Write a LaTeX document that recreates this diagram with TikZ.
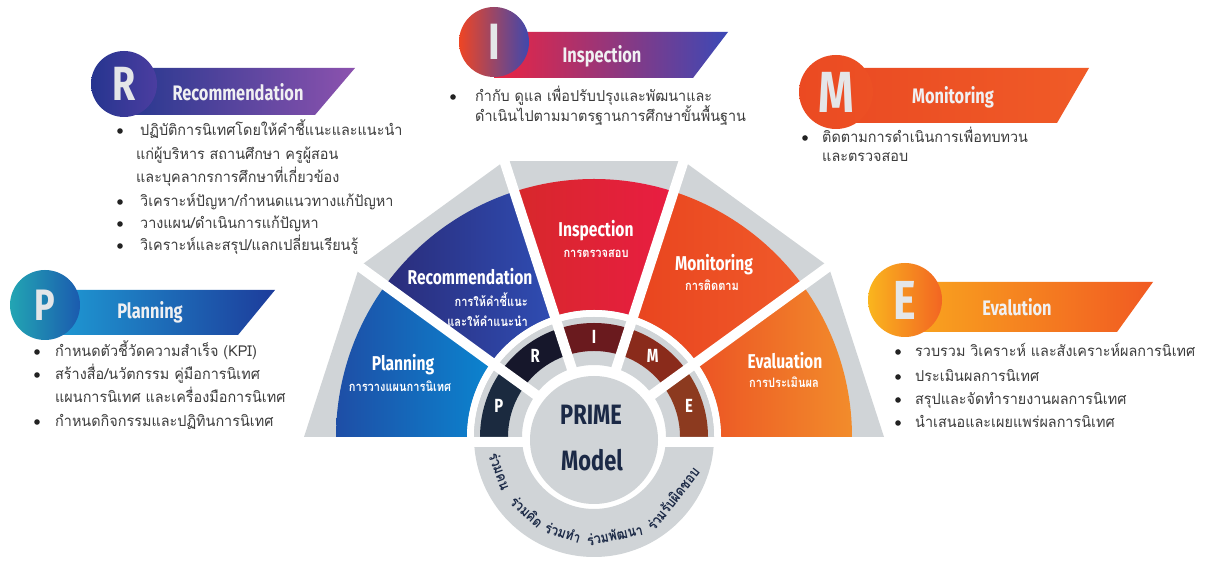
\documentclass[tikz,border=0pt]{standalone}
\usepackage{fontspec}
\setmainfont{Fira Sans}
\newfontfamily\cond[FakeStretch=0.78]{Fira Sans}
\newfontfamily\thai[Script=Thai,FakeStretch=0.96]{Loma}
\newfontfamily\thaic[Script=Thai,FakeStretch=0.85]{Loma}
\usetikzlibrary{calc}
\definecolor{wgrey}{HTML}{D0D4D7}
\definecolor{planL}{HTML}{1E4EA6}\definecolor{planR}{HTML}{0B84CF}
\definecolor{recL}{HTML}{2A2C7A}\definecolor{recR}{HTML}{2F4DB3}
\definecolor{insL}{HTML}{D7282B}\definecolor{insR}{HTML}{E91D42}
\definecolor{monL}{HTML}{E9451F}\definecolor{monR}{HTML}{F05A2A}
\definecolor{evaL}{HTML}{EC5424}\definecolor{evaR}{HTML}{F28C2B}
\definecolor{segP}{HTML}{1B2A3F}\definecolor{segR}{HTML}{16172B}
\definecolor{segI}{HTML}{6A1A1E}\definecolor{segM}{HTML}{8A2B1B}
\definecolor{segE}{HTML}{8C3A1F}
\definecolor{navy}{HTML}{1B2946}
\definecolor{txt}{HTML}{3C3C3C}
\definecolor{bulletc}{HTML}{222222}
\definecolor{letgrey}{HTML}{E4E6E8}
\definecolor{hdrwhite}{HTML}{F0F0F2}
\definecolor{rcL}{HTML}{26358F}\definecolor{rcR}{HTML}{4B3DA0}
\definecolor{rbL}{HTML}{26388F}\definecolor{rbR}{HTML}{8C52AE}
\definecolor{icL}{HTML}{EE4524}\definecolor{icR}{HTML}{3F48AE}
\definecolor{ibL}{HTML}{EC2442}\definecolor{ibM}{HTML}{B2309A}\definecolor{ibR}{HTML}{3B49B6}
\definecolor{mcL}{HTML}{EB4A22}\definecolor{mcR}{HTML}{EC5024}
\definecolor{mbL}{HTML}{EA4B23}\definecolor{mbR}{HTML}{F05B27}
\definecolor{pcL}{HTML}{22A5B3}\definecolor{pcR}{HTML}{1B5BAF}
\definecolor{pbL}{HTML}{1E9ED6}\definecolor{pbR}{HTML}{1D3C9B}
\definecolor{ecL}{HTML}{FAB51E}\definecolor{ecR}{HTML}{F26522}
\definecolor{ebL}{HTML}{F9A71E}\definecolor{ebR}{HTML}{F15A22}
\newcommand\bigfont[1]{\cond\bfseries\fontsize{#1}{#1}\selectfont}
\begin{document}
\begin{tikzpicture}[x=1pt,y=1pt,
  hdrtext/.style={text=hdrwhite, inner sep=0pt, font=\cond\bfseries\fontsize{21}{21}\selectfont},
  bigletter/.style={circle, inner sep=0pt, text=letgrey},
  seclabel/.style={text=white, inner sep=0pt, font=\cond\bfseries\fontsize{20}{20}\selectfont},
  secthai/.style={text=white, inner sep=0pt, font=\thaic\bfseries\fontsize{13}{13}\selectfont},
  segletter/.style={text=white, inner sep=0pt, font=\cond\bfseries\fontsize{19}{19}\selectfont},
  bodythai/.style={anchor=base west, inner sep=0pt, text=txt, font=\thai\fontsize{15}{15}\selectfont},
  arcthai/.style={text=navy, inner sep=0pt, font=\thaic\bfseries\fontsize{14.5}{14.5}\selectfont},
  bulletdot/.style={fill=bulletc},
  centertext/.style={text=navy, inner sep=0pt, font=\cond\bfseries\fontsize{28}{28}\selectfont},
]
\useasboundingbox (0,0) rectangle (1214,561);
\fill[white] (0,0) rectangle (1214,561);
\coordinate (C) at (594,124);
% outer grey polygons
\foreach \a in {0,36,72,108,144}{
  \fill[wgrey] ([shift={(\a:120)}]C) -- ([shift={(\a:290)}]C) -- ([shift={(\a+36:290)}]C) -- ([shift={(\a+36:120)}]C) -- cycle;
}
% coloured sectors
\foreach \a/\lc/\rc in {144/planL/planR,108/recL/recR,72/insL/insR,36/monL/monR,0/evaL/evaR}{
  \shade[left color=\lc, right color=\rc] ([shift={(\a:127)}]C) -- ([shift={(\a:258)}]C) arc[start angle=\a, delta angle=36, radius=258] -- ([shift={(\a+36:127)}]C) arc[start angle=\a+36, delta angle=-36, radius=127] -- cycle;
}
% white gap between ring and sectors
\fill[white] ([shift={(0:127)}]C) arc[start angle=0, end angle=180, radius=127] -- ([shift={(180:120)}]C) arc[start angle=180, end angle=0, radius=120] -- cycle;
% upper grey ring
\fill[wgrey] ([shift={(0:120)}]C) arc[start angle=0, end angle=180, radius=120] -- ([shift={(180:72)}]C) arc[start angle=180, end angle=0, radius=72] -- cycle;
% letter segments
\foreach \a/\col in {144/segP,108/segR,72/segI,36/segM,0/segE}{
  \fill[\col] ([shift={(\a:86)}]C) -- ([shift={(\a:114)}]C) arc[start angle=\a, delta angle=36, radius=114] -- ([shift={(\a+36:86)}]C) arc[start angle=\a+36, delta angle=-36, radius=86] -- cycle;
}
% radial white gaps
\foreach \a in {36,72,108,144}{
  \draw[white, line width=10] ([shift={(\a:66)}]C) -- ([shift={(\a:300)}]C);
}
% bottom grey ring
\fill[wgrey] ([shift={(180:120)}]C) arc[start angle=180, end angle=360, radius=120] -- ([shift={(0:72)}]C) arc[start angle=360, end angle=180, radius=72] -- cycle;
\fill[white] (290,114) rectangle (900,124);
% centre circle
\node[circle, fill=wgrey, minimum size=128, inner sep=0pt] (core) at (594,121) {};
\node[centertext] (prime) at (591,146) {PRIME};
\node[centertext] (model) at (592,101) {Model};
% segment letters
\node[segletter] (lP) at ([shift={(162:100)}]C) {P};
\node[segletter] (lR) at ([shift={(126:100)}]C) {R};
\node[segletter] (lI) at ([shift={(90:100)}]C) {I};
\node[segletter] (lM) at ([shift={(54:100)}]C) {M};
\node[segletter] (lE) at ([shift={(18:100)}]C) {E};
% sector labels
\node[seclabel] (sP) at (403,196) {Planning};
\node[secthai] (sPt) at (400,175) {การวางแผนการนิเทศ};
\node[seclabel] (sR) at (470,284) {Recommendation};
\node[secthai, anchor=east] (sRt1) at (528,261) {การให้คำชี้แนะ};
\node[secthai, anchor=east] (sRt2) at (528,240) {และให้คำแนะนำ};
\node[seclabel] (sI) at (596,330) {Inspection};
\node[secthai] (sIt) at (596,307) {การตรวจสอบ};
\node[seclabel] (sM) at (714,296) {Monitoring};
\node[secthai] (sMt) at (712,276) {การติดตาม};
\node[seclabel] (sE) at (785,200) {Evaluation};
\node[secthai] (sEt) at (784,179) {การประเมินผล};
% arc text
\foreach \ang/\w/\nm in {200/ร่วมคน/w1,228/ร่วมคิด/w2,252/ร่วมทำ/w3,282/ร่วมพัฒนา/w4,322/ร่วมรับผิดชอบ/w5}{
  \node[arcthai, rotate=\ang+90] (\nm) at ([shift={(\ang:100)}]C) {\w};
}
% ===== headers =====
% R
\shade[left color=rbL, right color=rbR] (124,493) -- (355,493) -- (315,446) -- (124,446) -- cycle;
\node[bigletter, minimum size=66, left color=rcL, right color=rcR, font=\bigfont{48}] (rc) at (124,477) {R};
\node[hdrtext] (rt) at (238,469) {Recommendation};
% I
\shade[left color=ibL, middle color=ibM, right color=ibR] (494,529) -- (728,529) -- (693,483) -- (494,483) -- cycle;
\node[bigletter, minimum size=70, left color=icL, right color=icR, font=\bigfont{51}] (ic) at (494,519) {I};
\node[hdrtext] (it) at (602,505) {Inspection};
% M
\shade[left color=mbL, right color=mbR] (836,493) -- (1089,493) -- (1057,438) -- (836,438) -- cycle;
\node[bigletter, minimum size=74, left color=mcL, right color=mcR, font=\bigfont{58}] (mc) at (836,469) {M};
\node[hdrtext] (mt) at (953,464) {Monitoring};
% P
\shade[left color=pbL, right color=pbR] (45,271) -- (275,271) -- (238,226) -- (45,226) -- cycle;
\node[bigletter, minimum size=70, left color=pcL, right color=pcR, font=\bigfont{44}] (pc) at (45,256) {P};
\node[hdrtext] (pt) at (150,249) {Planning};
% E
\shade[left color=ebL, right color=ebR] (905,279) -- (1153,279) -- (1117,229) -- (905,229) -- cycle;
\node[bigletter, minimum size=74, left color=ecL, right color=ecR, font=\bigfont{55}] (ec) at (905,261) {E};
\node[hdrtext] (et) at (1017,254) {Evalution};
% ===== bullet lists =====
% R
\foreach \y in {430,359,337,315} \fill[bulletdot] (120,\y) circle (2.8);
\node[bodythai] (r1) at (140,425) {ปฏิบัติการนิเทศโดยให้คำชี้แนะและแนะนำ};
\node[bodythai] (r2) at (136,401) {แก่ผู้บริหาร สถานศึกษา ครูผู้สอน};
\node[bodythai] (r3) at (136,378) {และบุคลากรการศึกษาที่เกี่ยวข้อง};
\node[bodythai] (r4) at (140,354) {วิเคราะห์ปัญหา/กำหนดแนวทางแก้ปัญหา};
\node[bodythai] (r5) at (140,332) {วางแผน/ดำเนินการแก้ปัญหา};
\node[bodythai] (r6) at (140,310) {วิเคราะห์และสรุป/แลกเปลี่ยนเรียนรู้};
% I
\fill[bulletdot] (453,464) circle (2.8);
\node[bodythai] (i1) at (475,459) {กำกับ ดูแล เพื่อปรับปรุงและพัฒนาและ};
\node[bodythai] (i2) at (475,439) {ดำเนินไปตามมาตรฐานการศึกษาขั้นพื้นฐาน};
% M
\fill[bulletdot] (805,423) circle (2.8);
\node[bodythai] (m1) at (822,418) {ติดตามการดำเนินการเพื่อทบทวน};
\node[bodythai] (m2) at (822,399) {และตรวจสอบ};
% P
\foreach \y in {209,186,139} \fill[bulletdot] (37,\y) circle (2.8);
\node[bodythai] (p1) at (55,204) {กำหนดตัวชี้วัดความสำเร็จ (KPI)};
\node[bodythai] (p2) at (55,181) {สร้างสื่อ/นวัตกรรม คู่มือการนิเทศ};
\node[bodythai] (p3) at (55,158) {แผนการนิเทศ และเครื่องมือการนิเทศ};
\node[bodythai] (p4) at (55,134) {กำหนดกิจกรรมและปฏิทินการนิเทศ};
% E
\foreach \y in {209,184,161,138} \fill[bulletdot] (898,\y) circle (2.8);
\node[bodythai] (e1) at (915,204) {รวบรวม วิเคราะห์ และสังเคราะห์ผลการนิเทศ};
\node[bodythai] (e2) at (915,179) {ประเมินผลการนิเทศ};
\node[bodythai] (e3) at (915,156) {สรุปและจัดทำรายงานผลการนิเทศ};
\node[bodythai] (e4) at (915,133) {นำเสนอและเผยแพร่ผลการนิเทศ};
\end{tikzpicture}
\end{document}
